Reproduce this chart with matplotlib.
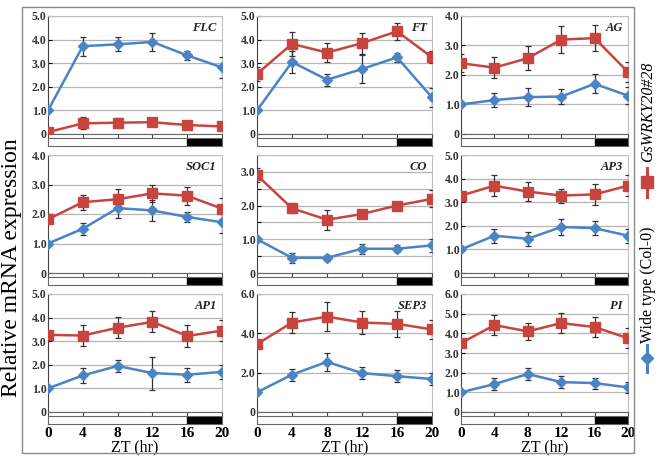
import numpy as np
import matplotlib
matplotlib.use("Agg")
import matplotlib.pyplot as plt
from matplotlib.patches import Rectangle
from matplotlib.lines import Line2D

plt.rcParams['font.family'] = ['Liberation Serif', 'DejaVu Serif']

zt = [0, 4, 8, 12, 16, 20]

genes = ["FLC", "FT", "AG", "SOC1", "CO", "AP3", "AP1", "SEP3", "PI"]

wt = {
    "FLC":  [1.0, 3.72, 3.8, 3.9, 3.33, 2.82],
    "FT":   [1.0, 3.05, 2.3, 2.75, 3.25, 1.55],
    "AG":   [1.0, 1.15, 1.25, 1.27, 1.7, 1.3],
    "SOC1": [1.0, 1.5, 2.2, 2.12, 1.9, 1.72],
    "CO":   [1.0, 0.45, 0.45, 0.72, 0.72, 0.82],
    "AP3":  [1.0, 1.58, 1.45, 1.95, 1.9, 1.58],
    "AP1":  [1.0, 1.55, 1.95, 1.65, 1.58, 1.7],
    "SEP3": [1.0, 1.9, 2.55, 1.98, 1.82, 1.68],
    "PI":   [1.0, 1.42, 1.93, 1.52, 1.47, 1.25],
}
wt_err = {
    "FLC":  [0, 0.4, 0.3, 0.4, 0.2, 0.45],
    "FT":   [0, 0.45, 0.25, 0.6, 0.2, 0.4],
    "AG":   [0, 0.25, 0.3, 0.27, 0.32, 0.3],
    "SOC1": [0, 0.2, 0.35, 0.35, 0.17, 0.35],
    "CO":   [0, 0.15, 0.08, 0.15, 0.1, 0.2],
    "AP3":  [0, 0.3, 0.3, 0.35, 0.3, 0.3],
    "AP1":  [0, 0.3, 0.25, 0.7, 0.3, 0.3],
    "SEP3": [0, 0.3, 0.45, 0.3, 0.3, 0.3],
    "PI":   [0, 0.3, 0.3, 0.3, 0.28, 0.3],
}
ox = {
    "FLC":  [0.08, 0.45, 0.48, 0.5, 0.38, 0.32],
    "FT":   [2.55, 3.82, 3.45, 3.85, 4.35, 3.25],
    "AG":   [2.4, 2.25, 2.57, 3.2, 3.25, 2.1],
    "SOC1": [1.82, 2.4, 2.5, 2.7, 2.62, 2.18],
    "CO":   [2.9, 1.92, 1.58, 1.75, 2.0, 2.2],
    "AP3":  [3.28, 3.7, 3.45, 3.28, 3.33, 3.7],
    "AP1":  [3.27, 3.24, 3.57, 3.82, 3.22, 3.45],
    "SEP3": [3.45, 4.55, 4.85, 4.55, 4.48, 4.2],
    "PI":   [3.5, 4.42, 4.1, 4.52, 4.32, 3.75],
}
ox_err = {
    "FLC":  [0.05, 0.25, 0.2, 0.15, 0.1, 0.05],
    "FT":   [0.3, 0.5, 0.4, 0.45, 0.35, 0.25],
    "AG":   [0.3, 0.35, 0.4, 0.45, 0.45, 0.35],
    "SOC1": [0.1, 0.25, 0.35, 0.3, 0.3, 0.35],
    "CO":   [0.2, 0.15, 0.3, 0.12, 0.12, 0.25],
    "AP3":  [0.15, 0.45, 0.4, 0.3, 0.45, 0.45],
    "AP1":  [0.05, 0.45, 0.45, 0.45, 0.45, 0.43],
    "SEP3": [0.15, 0.55, 0.75, 0.6, 0.65, 0.5],
    "PI":   [0.1, 0.5, 0.45, 0.5, 0.5, 0.5],
}
ytop = {"FLC": 5, "FT": 5, "AG": 4, "SOC1": 4, "CO": 3.5, "AP3": 5,
        "AP1": 5, "SEP3": 6, "PI": 6}
ystep = {"FLC": 1, "FT": 1, "AG": 1, "SOC1": 1, "CO": 0.5, "AP3": 1,
         "AP1": 1, "SEP3": 2, "PI": 1}

RED = "#c8453f"
BLUE = "#4a84c4"
W, H = 661, 459

fig = plt.figure(figsize=(W / 100, H / 100), dpi=100)


def box(l, t, r, b):
    return [l / W, 1 - b / H, (r - l) / W, (b - t) / H]


cols = [(48, 222), (257, 432), (461, 628)]
rows = [(16, 134), (155, 273), (294, 412)]

for k, g in enumerate(genes):
    r, c = divmod(k, 3)
    l, rr = cols[c]
    t, b = rows[r]
    ax = fig.add_axes(box(l, t, rr, b))
    ax.errorbar(zt, wt[g], yerr=wt_err[g], color=BLUE, lw=1.8, marker="D",
                ms=5, ecolor="#333333", elinewidth=0.9, capsize=2.5, capthick=0.9, zorder=3)
    ax.errorbar(zt, ox[g], yerr=ox_err[g], color=RED, lw=1.8, marker="s",
                ms=7.5, ecolor="#333333", elinewidth=0.9, capsize=2.5, capthick=0.9, zorder=3)
    ax.set_xlim(0, 20)
    ax.set_ylim(0, ytop[g])
    grid = np.arange(0, ytop[g] + 0.01, ystep[g])
    ax.set_yticks(grid)
    if g == "CO":
        ax.set_yticklabels(["0" if v == 0 else ("%.1f" % v if v % 1 == 0 else "") for v in grid])
    else:
        ax.set_yticklabels(["0" if v == 0 else "%.1f" % v for v in grid])
    ax.yaxis.grid(True, color="#b5b5b5", lw=0.9)
    ax.set_axisbelow(True)
    ax.set_xticks(zt)
    ax.set_xticklabels([])
    ax.tick_params(axis="y", direction="in", length=3, width=0.8, pad=1,
                   labelsize=8.5, labelcolor="#333333")
    ax.tick_params(axis="x", direction="out", length=3, width=0.8, color="#444444")
    for lab in ax.get_yticklabels():
        lab.set_fontweight("bold")
    for s in ["top", "right"]:
        ax.spines[s].set_color("#c0c0c0")
    ax.spines["left"].set_color("#444444")
    ax.spines["bottom"].set_color("#666666")
    ax.text(0.97, 0.95, g, transform=ax.transAxes, ha="right", va="top",
            fontsize=9, fontstyle="italic", fontweight="bold", color="#222222")

    bar = fig.add_axes(box(l, b + 4, rr, b + 12))
    bar.set_xlim(0, 20)
    bar.set_ylim(0, 1)
    bar.add_patch(Rectangle((16, 0), 4, 1, color="black"))
    bar.set_yticks([])
    bar.set_xticks(zt)
    bar.tick_params(axis="x", length=0, pad=2, labelsize=11)
    for s in bar.spines.values():
        s.set_color("#666666")
        s.set_linewidth(0.8)
    if r == 2:
        for lab in bar.get_xticklabels():
            lab.set_fontweight("bold")
        bar.set_xlabel("ZT (hr)", fontsize=11.5, labelpad=0)
    else:
        bar.set_xticklabels([])

# outer frame
fig.add_artist(Rectangle((22 / W, 1 - 453 / H), (634 - 22) / W, (453 - 7) / H,
                         transform=fig.transFigure, fill=False, ec="#8a8a8a", lw=1))

fig.text(12 / W, 1 - 268 / H, "Relative mRNA expression", rotation=90,
         fontsize=17, ha="center", va="center")

# legend drawn vertically on the right
fig.text(648 / W, 1 - 112 / H, "GsWRKY20#28", rotation=90, fontsize=11.5,
         fontstyle="italic", ha="center", va="center")
fig.add_artist(Line2D([647 / W, 647 / W], [1 - 168 / H, 1 - 197 / H],
                      transform=fig.transFigure, color=RED, lw=2.2))
fig.add_artist(Line2D([647 / W], [1 - 182 / H], transform=fig.transFigure,
                      color=RED, marker="s", ms=8, lw=0))
fig.text(648 / W, 1 - 285 / H, "Wide type (Col-0)", rotation=90, fontsize=11.5,
         ha="center", va="center")
fig.add_artist(Line2D([647 / W, 647 / W], [1 - 345 / H, 1 - 372 / H],
                      transform=fig.transFigure, color=BLUE, lw=2.2))
fig.add_artist(Line2D([647 / W], [1 - 358 / H], transform=fig.transFigure,
                      color=BLUE, marker="D", ms=6, lw=0))

fig.savefig("out.png", dpi=100)
